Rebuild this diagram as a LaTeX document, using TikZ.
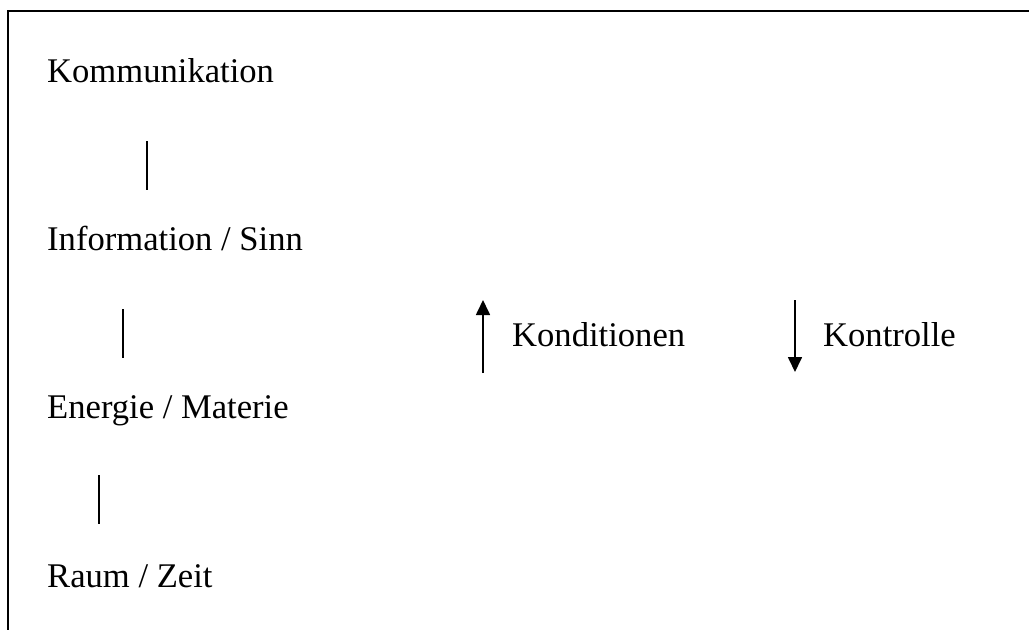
\documentclass[tikz,border=0pt]{standalone}
\usepackage{fontspec}
\setmainfont{Liberation Serif}
\usetikzlibrary{arrows.meta}
\tikzset{
  lbl/.style={anchor=base west, inner sep=0pt, font=\fontsize{34.6}{41}\selectfont},
  bar/.style={line width=1.7pt},
  frame/.style={line width=2pt},
  flow/.style={line width=1.7pt, -{Triangle[length=15pt,width=14pt]}}
}
\begin{document}
\begin{tikzpicture}[x=1pt,y=-1pt]
  \useasboundingbox (0,0) rectangle (1029,630);
  % open frame: top edge and left edge
  \coordinate (fr) at (1029,11);
  \coordinate (ftl) at (7.5,11);
  \coordinate (fb) at (7.5,630);
  \draw[frame] (fr) -- (ftl) -- (fb);

  % levels
  \node[lbl] (kom) at (47,82) {Kommunikation};
  \node[lbl] (inf) at (47,250) {Information / Sinn};
  \node[lbl] (ene) at (47,418) {Energie / Materie};
  \node[lbl] (rau) at (47,587) {Raum / Zeit};

  % separator bars between the levels
  \coordinate (b1t) at (147,141);
  \coordinate (b1b) at (147,190);
  \coordinate (b2t) at (123,309);
  \coordinate (b2b) at (123,358);
  \coordinate (b3t) at (99,475);
  \coordinate (b3b) at (99,524);
  \draw[bar] (b1t) -- (b1b);
  \draw[bar] (b2t) -- (b2b);
  \draw[bar] (b3t) -- (b3b);

  % directions
  \coordinate (u0) at (483,373);
  \coordinate (u1) at (483,300);
  \coordinate (d0) at (795,300);
  \coordinate (d1) at (795,372);
  \draw[flow] (u0) -- (u1);
  \draw[flow] (d0) -- (d1);
  \node[lbl] (kond) at (512,346) {Konditionen};
  \node[lbl] (kont) at (823,346) {Kontrolle};
\end{tikzpicture}
\end{document}
